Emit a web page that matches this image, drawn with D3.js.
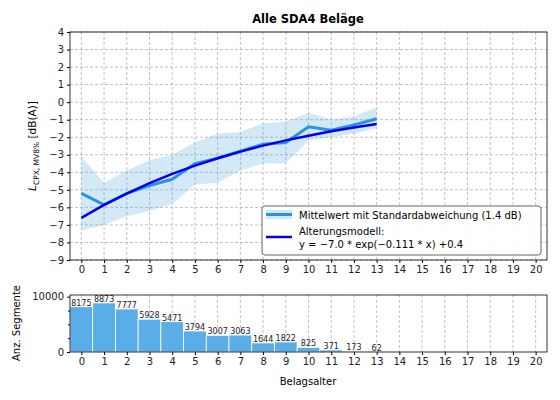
<!DOCTYPE html><html><head><meta charset="utf-8"><script src="https://cdn.jsdelivr.net/npm/d3@7"></script>
<style>body{margin:0;background:#fff}text{font-family:"DejaVu Sans",sans-serif}</style></head><body><svg id="c" width="560" height="400"></svg><script>
const ages=[0,1,2,3,4,5,6,7,8,9,10,11,12,13];
const meanVals=[-5.2,-5.85,-5.2,-4.75,-4.4,-3.5,-3.2,-2.8,-2.4,-2.3,-1.4,-1.6,-1.3,-0.95];
const upperVals=[-3.1,-4.6,-3.9,-3.3,-3.0,-2.3,-1.8,-1.7,-1.2,-1.1,-0.6,-1.0,-0.8,-0.3];
const lowerVals=[-7.3,-7.0,-6.5,-6.2,-5.8,-4.7,-4.6,-3.9,-3.5,-3.5,-2.2,-2.0,-1.8,-1.5];
const modelVals=[-6.6,-5.86,-5.21,-4.62,-4.09,-3.62,-3.20,-2.82,-2.48,-2.18,-1.91,-1.66,-1.45,-1.25];
const counts=[8175,8873,7777,5928,5471,3794,3007,3063,1644,1822,825,371,173,62];
const xTicks=d3.range(0,21);
const yTicks=d3.range(-9,5);
const svg=d3.select("#c");
const L=70,R=547;
const x=d3.scaleLinear().domain([-0.5,20.5]).range([L,R]);
const y=d3.scaleLinear().domain([-9,4]).range([260,32]);
const g=svg.append("g");
const gc="#999";
xTicks.forEach(t=>g.append("line").attr("x1",x(t)).attr("x2",x(t)).attr("y1",32).attr("y2",260).attr("stroke",gc).attr("stroke-dasharray","3,2").attr("stroke-width",0.6));
yTicks.forEach(t=>g.append("line").attr("x1",L).attr("x2",R).attr("y1",y(t)).attr("y2",y(t)).attr("stroke",gc).attr("stroke-dasharray","3,2").attr("stroke-width",0.6));
g.append("path").datum(ages).attr("d",d3.area().x(d=>x(d)).y0((d,i)=>y(lowerVals[i])).y1((d,i)=>y(upperVals[i]))).attr("fill","#3d9be0").attr("opacity",0.22);
g.append("path").datum(ages).attr("d",d3.line().x(d=>x(d)).y((d,i)=>y(meanVals[i]))).attr("fill","none").attr("stroke","#2a93e0").attr("stroke-width",3);
g.append("path").datum(ages).attr("d",d3.line().x(d=>x(d)).y((d,i)=>y(modelVals[i]))).attr("fill","none").attr("stroke","#0000ee").attr("stroke-width",2.5);
const ax=svg.append("g").attr("transform","translate(0,260)").call(d3.axisBottom(x).tickValues(xTicks).tickSize(3).tickFormat(d3.format("d")));
const ay=svg.append("g").attr("transform",`translate(${L},0)`).call(d3.axisLeft(y).tickValues(yTicks).tickSize(3));
[ax,ay].forEach(a=>{a.select(".domain").remove();a.selectAll("text").attr("font-size",10).attr("fill","#222");});
svg.append("rect").attr("x",L).attr("y",32).attr("width",R-L).attr("height",228).attr("fill","none").attr("stroke","#000").attr("stroke-width",0.8);
svg.append("text").attr("x",308).attr("y",23).attr("text-anchor","middle").attr("font-size",11.5).attr("font-weight","bold").text("Alle SDA4 Beläge");
const yl=svg.append("text").attr("transform","translate(36,146) rotate(-90)").attr("text-anchor","middle").attr("font-size",10.5);
yl.append("tspan").attr("font-style","italic").text("L");
yl.append("tspan").attr("font-size",7.5).attr("dy",3).text("CPX, MV8%");
yl.append("tspan").attr("dy",-3).text(" [dB(A)]");
const lg=svg.append("g");
lg.append("rect").attr("x",262).attr("y",206).attr("width",279).attr("height",49).attr("rx",3).attr("fill","#fff").attr("fill-opacity",0.9).attr("stroke","#666");
lg.append("rect").attr("x",266).attr("y",210).attr("width",26).attr("height",9).attr("fill","#3d9be0").attr("opacity",0.22);
lg.append("line").attr("x1",266).attr("x2",292).attr("y1",214.5).attr("y2",214.5).attr("stroke","#2a93e0").attr("stroke-width",3);
lg.append("text").attr("x",299).attr("y",218.5).attr("font-size",10).text("Mittelwert mit Standardabweichung (1.4 dB)");
lg.append("line").attr("x1",266).attr("x2",292).attr("y1",237).attr("y2",237).attr("stroke","#0000ee").attr("stroke-width",2.5);
lg.append("text").attr("x",299).attr("y",234.5).attr("font-size",10).text("Alterungsmodell:");
lg.append("text").attr("x",299).attr("y",248).attr("font-size",10).text("y = −7.0 * exp(−0.111 * x) +0.4");
const yb=d3.scaleLinear().domain([0,10300]).range([352,295]);
const gb=svg.append("g");
xTicks.forEach(t=>gb.append("line").attr("x1",x(t)).attr("x2",x(t)).attr("y1",295).attr("y2",352).attr("stroke",gc).attr("stroke-dasharray","3,2").attr("stroke-width",0.6));
gb.selectAll("rect.b").data(counts).enter().append("rect").attr("x",(d,i)=>x(ages[i]-0.5)).attr("width",x(1)-x(0)).attr("y",d=>yb(d)).attr("height",d=>352-yb(d)).attr("fill","#5aaee8").attr("stroke","#fff").attr("stroke-width",0.8);
gb.selectAll("text.b").data(counts).enter().append("text").attr("x",(d,i)=>x(ages[i])).attr("y",d=>yb(d)-1).attr("text-anchor","middle").attr("font-size",8).attr("fill","#222").text(d=>d);
const bx=svg.append("g").attr("transform","translate(0,352)").call(d3.axisBottom(x).tickValues(xTicks).tickSize(3).tickFormat(d3.format("d")));
const by=svg.append("g").attr("transform",`translate(${L},0)`).call(d3.axisLeft(yb).tickValues([0,10000]).tickSize(3).tickFormat(d3.format("d")));
svg.append("g").attr("transform",`translate(${L},0)`).call(d3.axisLeft(yb).tickValues([2500,5000,7500]).tickSize(2).tickFormat("")).select(".domain").remove();
[bx,by].forEach(a=>{a.select(".domain").remove();a.selectAll("text").attr("font-size",10).attr("fill","#222");});
svg.append("rect").attr("x",L).attr("y",295).attr("width",R-L).attr("height",57).attr("fill","none").attr("stroke","#000").attr("stroke-width",0.8);
svg.append("text").attr("x",308).attr("y",385).attr("text-anchor","middle").attr("font-size",10).text("Belagsalter");
svg.append("text").attr("transform","translate(20,323) rotate(-90)").attr("text-anchor","middle").attr("font-size",10).text("Anz. Segmente");
</script></body></html>
